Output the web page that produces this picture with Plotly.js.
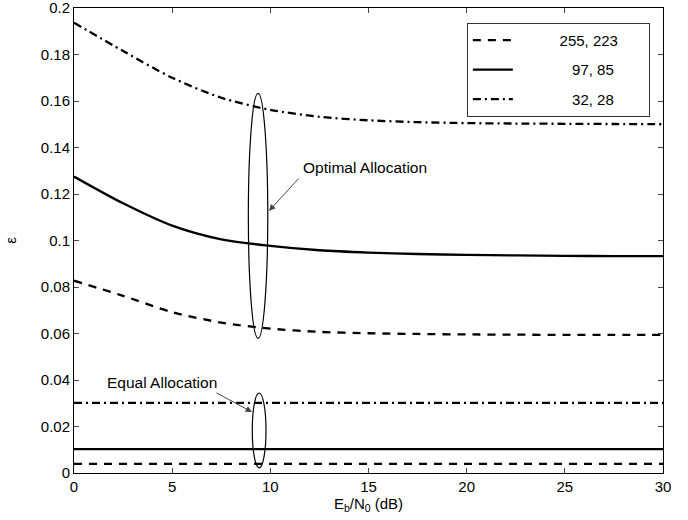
<!DOCTYPE html>
<html>
<head>
<meta charset="utf-8">
<script src="https://cdn.plot.ly/plotly-3.0.1.min.js"></script>
<style>html,body{margin:0;padding:0;background:#fff;}#chart{width:688px;height:520px;}</style>
</head>
<body>
<div id="chart"></div>
<script>
// Data
const snr = [0, 2.5, 5, 7.5, 10, 12.5, 15, 17.5, 20, 22.5, 25, 27.5, 30];
const opt255 = [0.0827, 0.0762, 0.0692, 0.0647, 0.0621, 0.0607, 0.0601, 0.0598, 0.0596, 0.0595, 0.0594, 0.0594, 0.0594];
const opt97  = [0.1275, 0.1160, 0.1064, 0.1005, 0.0977, 0.0958, 0.0948, 0.0942, 0.0938, 0.0936, 0.0934, 0.0933, 0.0933];
const opt32  = [0.1937, 0.1815, 0.1700, 0.1614, 0.1562, 0.1532, 0.1517, 0.1509, 0.1505, 0.1503, 0.1502, 0.1501, 0.1500];
const eqSnr = [0, 30];
const eq255 = [0.0039, 0.0039];
const eq97  = [0.0103, 0.0103];
const eq32  = [0.0302, 0.0302];
const seriesNames = ['255, 223', '97, 85', '32, 28'];
const xTicks = [0, 5, 10, 15, 20, 25, 30];
const yTicks = [0, 0.02, 0.04, 0.06, 0.08, 0.1, 0.12, 0.14, 0.16, 0.18, 0.2];
const yTickText = ['0', '0.02', '0.04', '0.06', '0.08', '0.1', '0.12', '0.14', '0.16', '0.18', '0.2'];

const font = 'Liberation Sans, Arial, Helvetica, sans-serif';
const dashStyle = '8px,7px';
const dashDotStyle = '8px,4px,2px,4px';
const lw = 2.3;

function tr(x, y, name, dash, show, group) {
  return {x: x, y: y, name: name, type: 'scatter', mode: 'lines', legendgroup: group,
    line: {color: '#000', width: lw, dash: dash, shape: 'spline', smoothing: 0.8},
    showlegend: show, hoverinfo: 'skip'};
}

const sp = n => '\u00a0'.repeat(n);
const data = [
  tr(snr, opt255, sp(10) + seriesNames[0] + '\u2007\u2007\u2007', dashStyle, true, 'a'),
  tr(snr, opt97, sp(13) + seriesNames[1], 'solid', true, 'b'),
  tr(snr, opt32, sp(13) + seriesNames[2], dashDotStyle, true, 'c'),
  tr(eqSnr, eq255, seriesNames[0], dashStyle, false, 'a'),
  tr(eqSnr, eq97, seriesNames[1], 'solid', false, 'b'),
  tr(eqSnr, eq32, seriesNames[2], dashDotStyle, false, 'c')
];

const layout = {
  width: 688, height: 520,
  margin: {l: 74, r: 25, t: 8, b: 47},
  paper_bgcolor: '#fff', plot_bgcolor: '#fff',
  font: {family: font, size: 15, color: '#000'},
  showlegend: true,
  legend: {x: 0.667, y: 0.968, xanchor: 'left', yanchor: 'top',
    bordercolor: '#333', borderwidth: 1, bgcolor: '#fff', itemwidth: 40,
    font: {family: font, size: 15}, tracegroupgap: 7},
  xaxis: {range: [0, 30], tickvals: xTicks, ticks: 'inside', ticklen: 5,
    showline: true, linecolor: '#000', linewidth: 1, mirror: 'ticks',
    showgrid: false, zeroline: false, tickfont: {size: 15}, ticklabeloverflow: 'allow',
    title: {text: 'E<sub>b</sub>/N<sub>0</sub> (dB)', font: {size: 15}, standoff: 4}},
  yaxis: {range: [0, 0.2], tickvals: yTicks, ticktext: yTickText, ticks: 'inside', ticklen: 5,
    showline: true, linecolor: '#000', linewidth: 1, mirror: 'ticks',
    showgrid: false, zeroline: false, tickfont: {size: 15}, ticklabeloverflow: 'allow',
    title: {text: 'ε', font: {size: 15}, standoff: 20}},
  shapes: [
    {type: 'circle', xref: 'x', yref: 'y', x0: 8.88, x1: 9.87, y0: 0.0579, y1: 0.1633,
      line: {color: '#000', width: 1.2}},
    {type: 'circle', xref: 'x', yref: 'y', x0: 9.08, x1: 9.78, y0: 0.0022, y1: 0.0344,
      line: {color: '#000', width: 1.2}}
  ],
  annotations: [
    {x: 14.82, y: 0.1312, xref: 'x', yref: 'y', text: 'Optimal Allocation', showarrow: false,
      font: {size: 15.5}},
    {x: 9.93, y: 0.1127, ax: 11.51, ay: 0.1273, xref: 'x', yref: 'y', axref: 'x', ayref: 'y',
      text: '', showarrow: true, arrowhead: 2, arrowsize: 1.3, arrowwidth: 1},
    {x: 4.48, y: 0.0391, xref: 'x', yref: 'y', text: 'Equal Allocation', showarrow: false,
      font: {size: 15.5}},
    {x: 9.07, y: 0.0262, ax: 7.18, ay: 0.0348, xref: 'x', yref: 'y', axref: 'x', ayref: 'y',
      text: '', showarrow: true, arrowhead: 2, arrowsize: 1.3, arrowwidth: 1}
  ]
};

Plotly.newPlot('chart', data, layout, {staticPlot: true, displayModeBar: false});
</script>
</body>
</html>
